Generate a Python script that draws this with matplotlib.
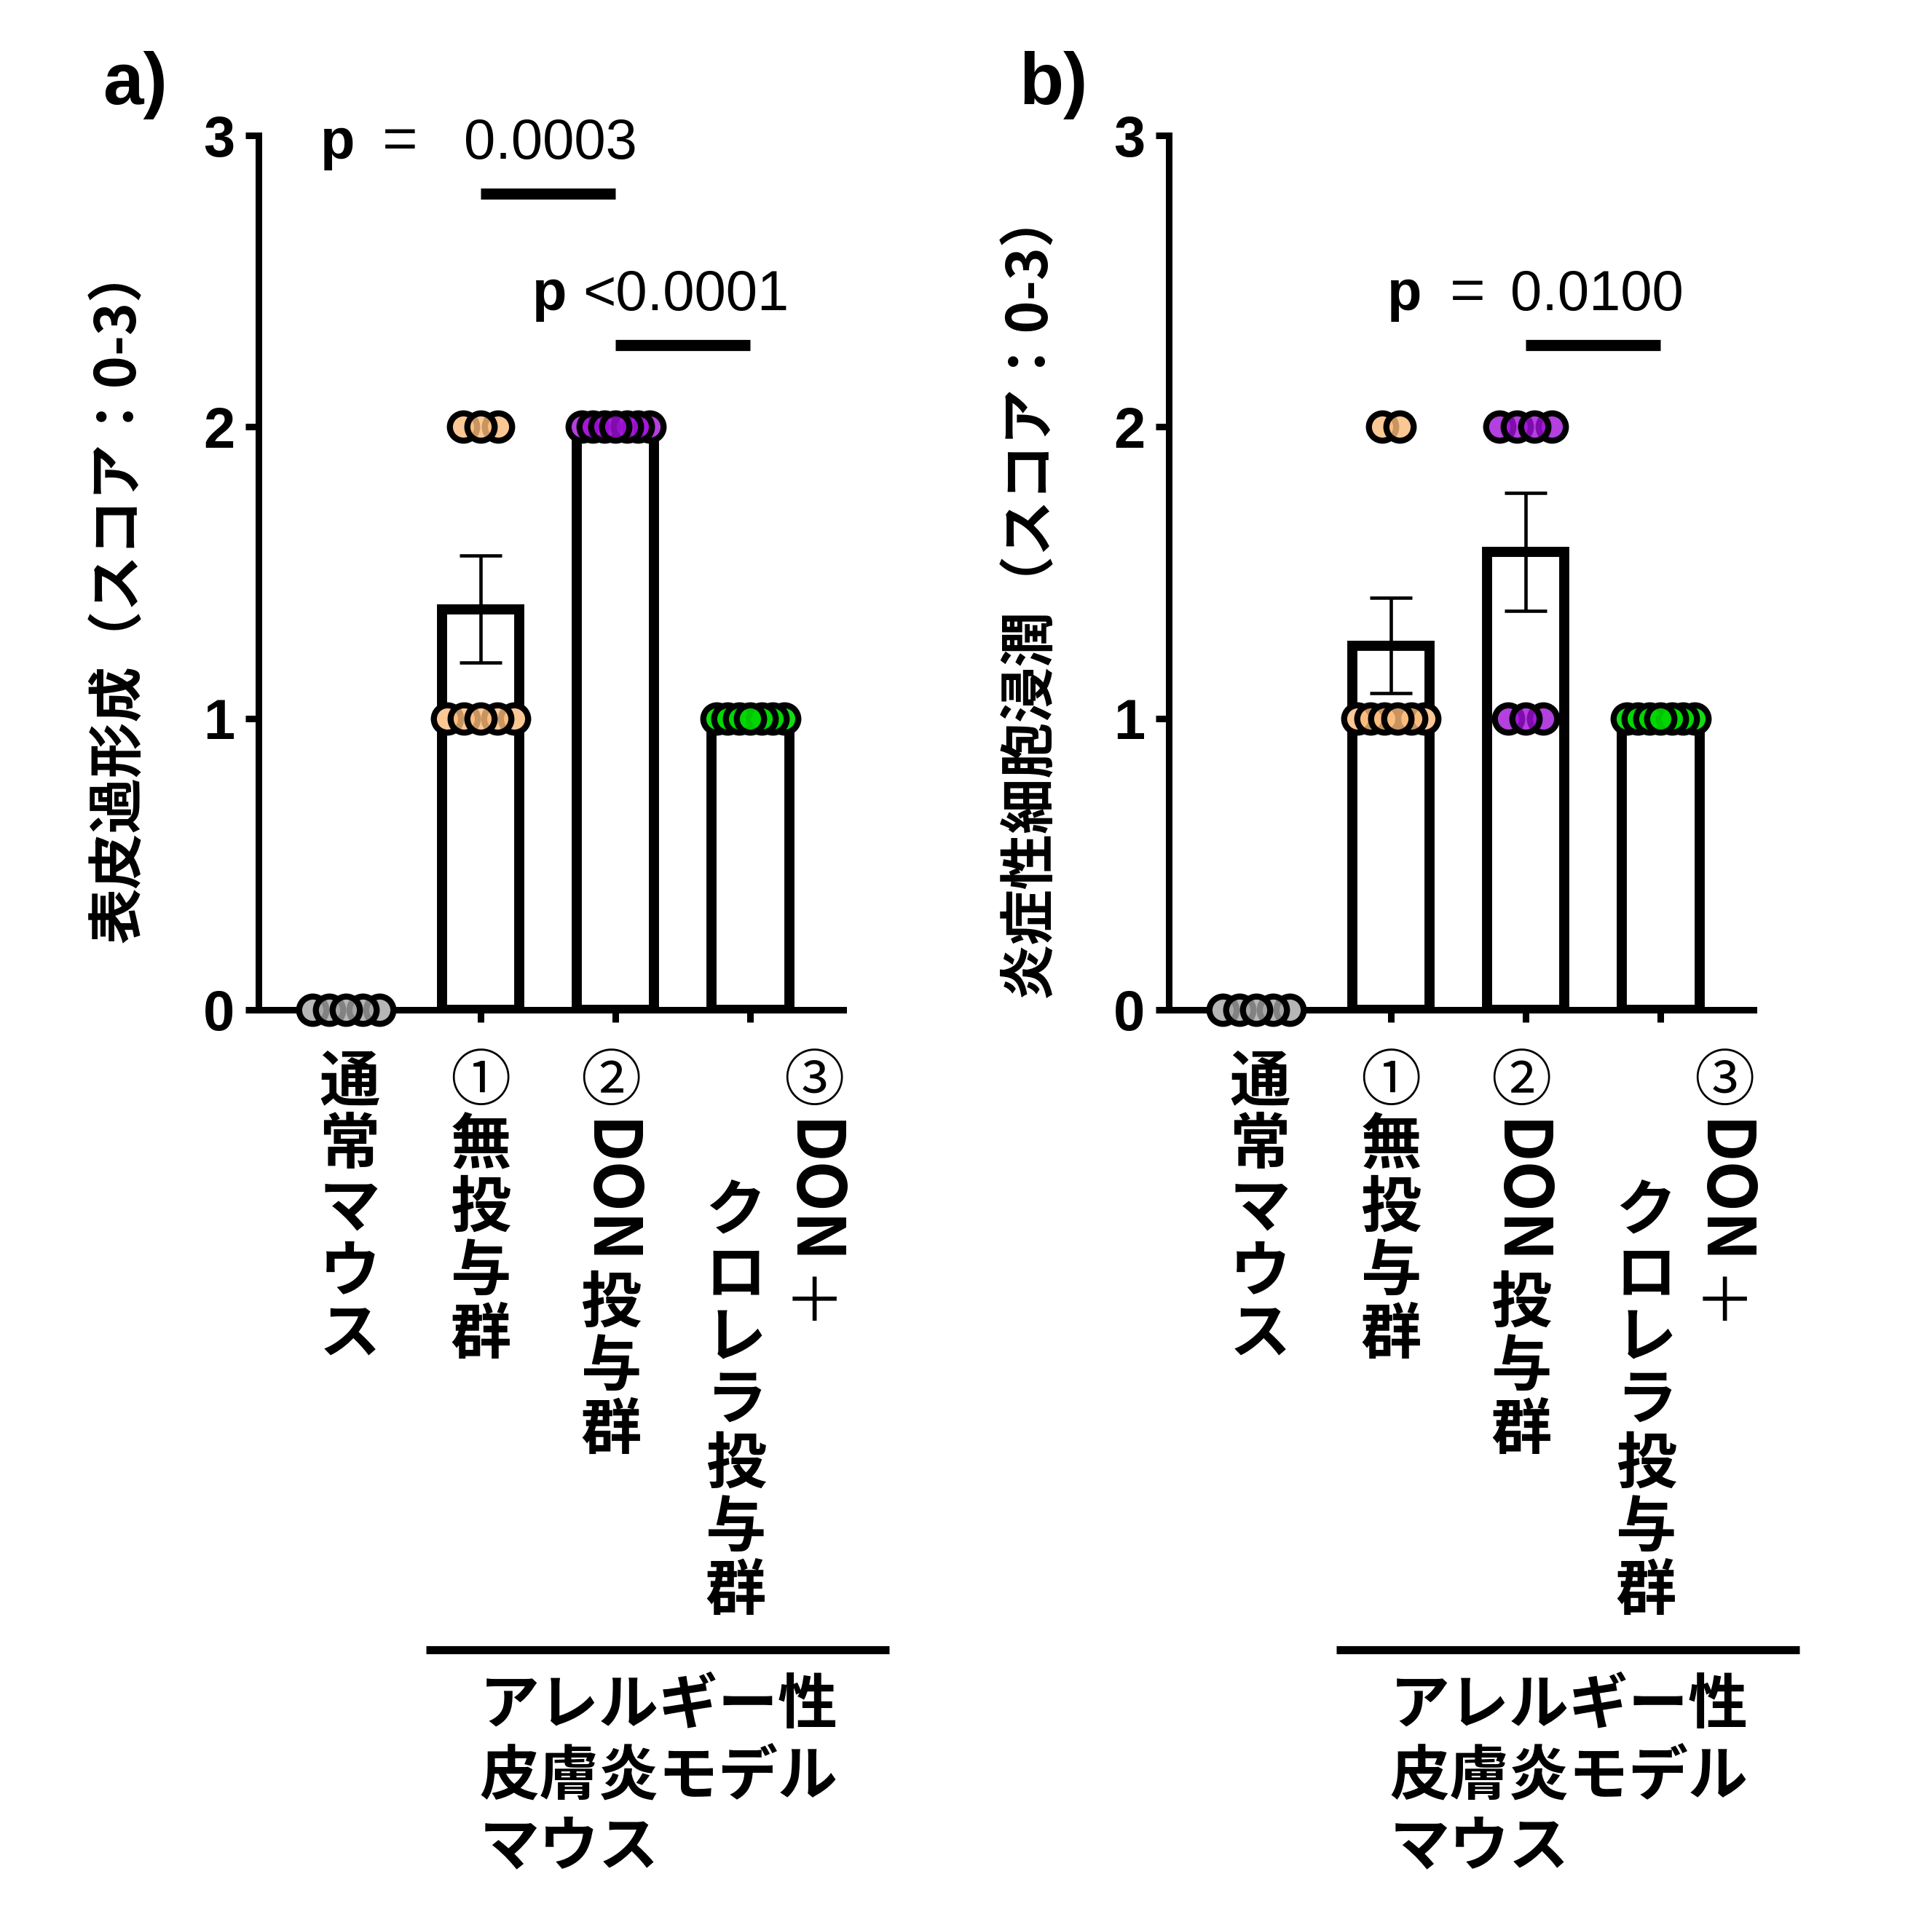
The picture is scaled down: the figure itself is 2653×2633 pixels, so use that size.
import re
import numpy as np
import matplotlib
matplotlib.use("Agg")
import matplotlib.pyplot as plt
import matplotlib.transforms as mtransforms
from matplotlib.colors import to_rgba

plt.rcParams['font.family'] = ['Noto Sans CJK JP', 'DejaVu Sans']

W, H = 2653, 2633

# ---- data ----
group_labels = ["通常マウス", "①無投与群", "②DON投与群", "③DON＋\nクロレラ投与群"]
model_label = ["アレルギー性", "皮膚炎モデル", "マウス"]

hyper_label = "表皮過形成（スコア：0-3）"
infl_label = "炎症性細胞浸潤（スコア：0-3）"

# individual scores per mouse
hyper_scores = [
    [0, 0, 0, 0, 0],
    [2, 2, 2, 1, 1, 1, 1, 1],
    [2, 2, 2, 2, 2, 2, 2],
    [1, 1, 1, 1, 1, 1, 1],
]
infl_scores = [
    [0, 0, 0, 0, 0],
    [2, 2, 1, 1, 1, 1, 1, 1],
    [2, 2, 2, 2, 1, 1, 1],
    [1, 1, 1, 1, 1, 1, 1],
]

# (group i, group j, operator, p value)
hyper_tests = [(1, 2, "=", "0.0003"), (2, 3, "<", "0.0001")]
infl_tests = [(2, 3, "=", "0.0100")]

dot_colors = ["#a4a4a4", "#fbba79", "#a010d8", "#00d800"]
dot_alpha = [0.8, 0.8, 0.8, 0.92]

# layout of p value annotations, relative to group i:
# (line y, text baseline y, dx p, dx op, dx number)
hyper_ann = [(2.80, 2.92, -1.06, -0.60, -0.124), (2.28, 2.40, -0.49, None, -0.243)]
infl_ann = [(2.28, 2.40, -0.90, -0.43, -0.114)]

fig = plt.figure(figsize=(W / 100, H / 100), dpi=100)
renderer = fig.canvas.get_renderer()

ax_w, ax_h = 803.5 / W, 1201 / H
ax_a = fig.add_axes([354.5 / W, 1 - 1387 / H, ax_w, ax_h])
ax_b = fig.add_axes([1604.5 / W, 1 - 1387 / H, ax_w, ax_h])

num_font = 'Liberation Sans'
pitch = 87
cjk_size = 60


def column_text(ax, xi, dx, ytop, text):
    base = mtransforms.blended_transform_factory(ax.transData, fig.transFigure)
    tr = mtransforms.offset_copy(base, fig=fig, x=dx, y=0, units='dots')
    tr_rot = mtransforms.offset_copy(base, fig=fig, x=dx - 6, y=0, units='dots')
    for run in re.findall(r'[A-Za-z]+|[^A-Za-z]', text):
        if run.isascii() and run.isalpha():
            t = fig.text(xi, 1 - (ytop + 8) / H, run, transform=tr_rot,
                         rotation=-90, ha='center', va='top',
                         fontsize=65, fontweight='bold')
            ytop += 8 + t.get_window_extent(renderer).height + 8
        else:
            weight = 'normal' if run in '①②③＋' else 'bold'
            fig.text(xi, 1 - (ytop + pitch / 2) / H, run, transform=tr,
                     ha='center', va='center', fontsize=cjk_size,
                     fontweight=weight)
            ytop += pitch


def draw_panel(ax, scores, ylabel, tests, ann, letter, letter_x):
    x = np.arange(len(scores))
    means = np.array([np.mean(s) for s in scores])
    sems = np.array([np.std(s, ddof=1) / np.sqrt(len(s)) for s in scores])

    has_bar = means > 0
    ax.bar(x[has_bar], means[has_bar], width=0.575, color='white',
           edgecolor='black', linewidth=10, zorder=2)
    has_err = sems > 0
    ax.errorbar(x[has_err], means[has_err], yerr=sems[has_err], fmt='none',
                ecolor='black', elinewidth=3.3, capsize=21, capthick=3.3,
                zorder=3)

    for xi, s, c, a in zip(x, scores, dot_colors, dot_alpha):
        vals = np.array(s)
        for v in np.unique(vals):
            n = int(np.sum(vals == v))
            step = 0.13 if n < 2 else min(0.13, 0.5 / (n - 1))
            offs = (np.arange(n) - (n - 1) / 2) * step
            ax.plot(xi + offs, np.full(n, v), 'o', ms=32, mfc='white',
                    mew=0, clip_on=False, zorder=4)
            for k in np.argsort(-np.abs(offs), kind='stable'):
                ax.plot(xi + offs[k], v, 'o', ms=27, mfc=to_rgba(c, a),
                        mec='black', mew=6, clip_on=False, zorder=5)

    for (i, j, op, p), (ly, ty, dxp, dxo, dxn) in zip(tests, ann):
        ax.plot([i, j], [ly, ly], color='black', lw=11,
                solid_capstyle='butt', clip_on=False, zorder=3)
        ax.text(i + dxp, ty, "p", ha='center', va='baseline', fontsize=56,
                fontweight='bold', family=num_font)
        if dxo is not None:
            ax.text(i + dxo, ty, op, ha='center', va='baseline', fontsize=60,
                    family=num_font)
            ax.text(i + dxn, ty, p, ha='left', va='baseline', fontsize=56,
                    family=num_font)
        else:
            ax.text(i + dxn, ty, op + p, ha='left', va='baseline',
                    fontsize=56, family=num_font)

    ax.set_xlim(-0.652, 3.69)
    ax.set_ylim(0, 3)
    ax.set_xticks(x)
    ax.set_xticklabels([])
    ax.set_yticks([0, 1, 2, 3])
    ax.set_yticklabels(['0', '1', '2', '3'], fontsize=56, fontweight='bold',
                       family=num_font)
    ax.tick_params(axis='y', length=13, width=6.5, pad=10)
    ax.tick_params(axis='x', length=12, width=6.5)
    for side in ['top', 'right']:
        ax.spines[side].set_visible(False)
    for side in ['left', 'bottom']:
        ax.spines[side].set_linewidth(6.5)
    ax.patch.set_alpha(0)

    ax.set_ylabel(ylabel, fontsize=55, fontweight='bold', va='center')
    ax.yaxis.set_label_coords(-0.238, 0.476)

    fig.text(letter_x / W, 1 - 143 / H, letter, fontsize=72,
             fontweight='bold', family=num_font, va='baseline')

    # group labels written vertically under the axis
    col_dx = [5, 0, -6]
    for xi, lbl in zip(x, group_labels):
        cols = lbl.split("\n")
        if len(cols) == 1:
            column_text(ax, xi, col_dx[xi], 1443, cols[0])
        else:
            column_text(ax, xi, 88, 1443, cols[0])
            column_text(ax, xi, -20, 1621, cols[1])

    # bracket over the allergic model groups
    tr = mtransforms.blended_transform_factory(ax.transData, fig.transFigure)
    ax.plot([1 - 0.405, 3 + 1.03], [1 - 2266 / H, 1 - 2266 / H],
            transform=tr, color='black', lw=8, solid_capstyle='butt',
            clip_on=False)
    for k, line in enumerate(model_label):
        fig.text(0.99, 1 - (2343 + 98 * k) / H, line, transform=tr,
                 ha='left', va='center', fontsize=59, fontweight='bold')


draw_panel(ax_a, hyper_scores, hyper_label, hyper_tests, hyper_ann, "a)", 141)
draw_panel(ax_b, infl_scores, infl_label, infl_tests, infl_ann, "b)", 1399)

fig.savefig("out.png", dpi=100, facecolor='white')
